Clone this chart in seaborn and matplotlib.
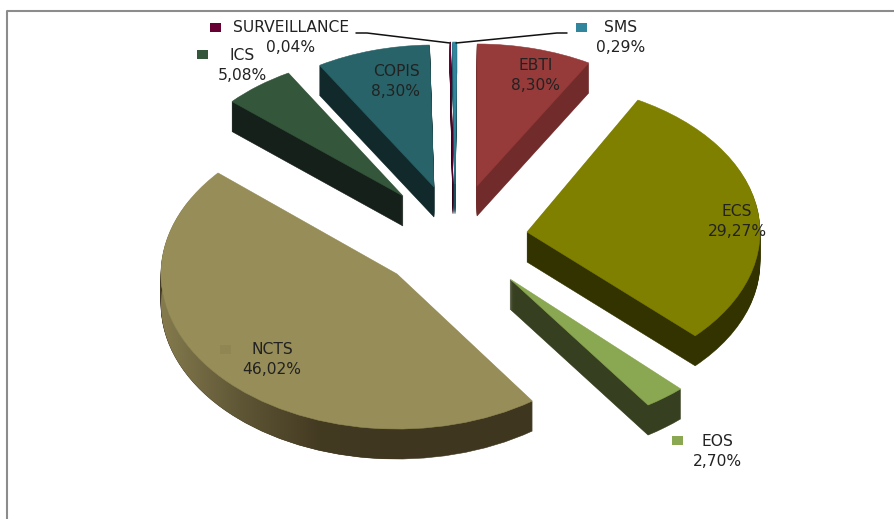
# imports
import numpy as np
import seaborn as sns
import matplotlib.pyplot as plt
from matplotlib.colors import LinearSegmentedColormap
from matplotlib.patches import Polygon, Rectangle
from matplotlib.transforms import Affine2D

# share of each system, clockwise from 12 o'clock
names = ["SMS", "EBTI", "ECS", "EOS", "NCTS", "ICS", "COPIS", "SURVEILLANCE"]
shares = [0.29, 8.30, 29.27, 2.70, 46.02, 5.08, 8.30, 0.04]
share_labels = ["0,29%", "8,30%", "29,27%", "2,70%", "46,02%", "5,08%", "8,30%", "0,04%"]

# colours
top_colors = sns.color_palette(["#31859c", "#963a3a", "#808000", "#8aa751",
                                "#968d58", "#34563b", "#276368", "#660033"])
side_colors = sns.color_palette(["#1c4f5d", "#722b2b", "#333300", "#363f1f",
                                 "#3f3620", "#16201a", "#12292c", "#330019"])
marker_colors = sns.color_palette(["#31859c", "#963a3a", "#808000", "#8aa751",
                                   "#8f8654", "#34563b", "#276368", "#660033"])

# layout of the exploded slices, in pixels of the picture
apex_x = [455, 477, 527, 510, 397, 403, 434, 453]
apex_y = [184, 186, 232, 279, 274, 196, 187, 184]
radius_x = [232, 224, 233, 247, 236, 229, 222, 232]
radius_y = [142, 142, 150, 152, 155, 142, 142, 142]
# small turn of each slice, the perspective of the original bends them a little
spin = [0.6, 1, 2.5, 0, 1, 0, 1, 0.6]
DEPTH = 30

# label positions (name centre x, name y) and legend key (x, y)
label_x = [621, 536, 737, 717, 272, 242, 396, 291]
label_y = [28, 65, 211, 442, 350, 55, 71, 28]
key_x = [576, None, None, 672, 220, 197, None, 210]
key_y = [23, None, None, 436, 345, 50, None, 23]

sns.set_theme(style="white")
plt.rcParams["font.family"] = ["DejaVu Sans"]

fig = plt.figure(figsize=(8.94, 5.19), dpi=100)
ax = fig.add_axes([0, 0, 1, 1])


def place(wedges, drop):
    """Move each unit wedge to its own apex, squashed into an ellipse."""
    for i, wedge in enumerate(wedges):
        squash = (Affine2D().rotate_deg(spin[i]).scale(radius_x[i], -radius_y[i])
                  .translate(apex_x[i], apex_y[i] + drop))
        wedge.set_transform(squash + ax.transData)
        wedge.set_edgecolor(wedge.get_facecolor())


# the thickness of the pie is a stack of pies going down
for drop in range(DEPTH, 0, -1):
    wedges, _ = ax.pie(shares, colors=side_colors, startangle=90, counterclock=False, radius=1,
                       wedgeprops={"linewidth": 0.4})
    place(wedges, drop)

# the top faces
wedges, _ = ax.pie(shares, colors=top_colors, startangle=90, counterclock=False, radius=1,
                   wedgeprops={"linewidth": 0.4, "zorder": 5})
place(wedges, 0)

# NCTS rim gets lighter to the left
ncts = names.index("NCTS")
t = np.radians(np.linspace(wedges[ncts].theta1, wedges[ncts].theta2, 200) + spin[ncts])
rim_x = apex_x[ncts] + radius_x[ncts] * np.cos(t)
rim_y = apex_y[ncts] - radius_y[ncts] * np.sin(t)
rim = np.vstack([np.column_stack([rim_x, rim_y]),
                 np.column_stack([rim_x, rim_y + DEPTH])[::-1]])
shade = LinearSegmentedColormap.from_list("rim", ["#857b4e", "#5f5636", "#433a22", "#3f3620"])
img = ax.imshow(np.linspace(0, 1, 256).reshape(1, -1), cmap=shade, aspect="auto",
                extent=(160, 400, 470, 200), zorder=2)
img.set_clip_path(Polygon(rim, transform=ax.transData))

# leader lines of the two thin slices
ax.plot([356, 367, 450], [33, 33, 43], color="#111111", lw=1.1, zorder=6)
ax.plot([456, 557, 567], [43, 33, 33], color="#111111", lw=1.1, zorder=6)

# labels and legend keys
for i, name in enumerate(names):
    ax.text(label_x[i], label_y[i], name, ha="center", va="center", fontsize=11.2,
            color="#222222", zorder=7)
    ax.text(label_x[i], label_y[i] + 20, share_labels[i], ha="center", va="center", fontsize=11.2,
            color="#222222", zorder=7)
    if key_x[i] is not None:
        ax.add_patch(Rectangle((key_x[i], key_y[i]), 11, 9, color=marker_colors[i], lw=0, zorder=6))

# frame of the picture
ax.plot([6.5, 6.5, 894], [519, 11, 11], color="#8c8c8c", lw=1.5, zorder=8)

ax.set_aspect("auto")
ax.set_xlim(0, 894)
ax.set_ylim(519, 0)
ax.axis("off")

fig.savefig("out.png", dpi=100)
